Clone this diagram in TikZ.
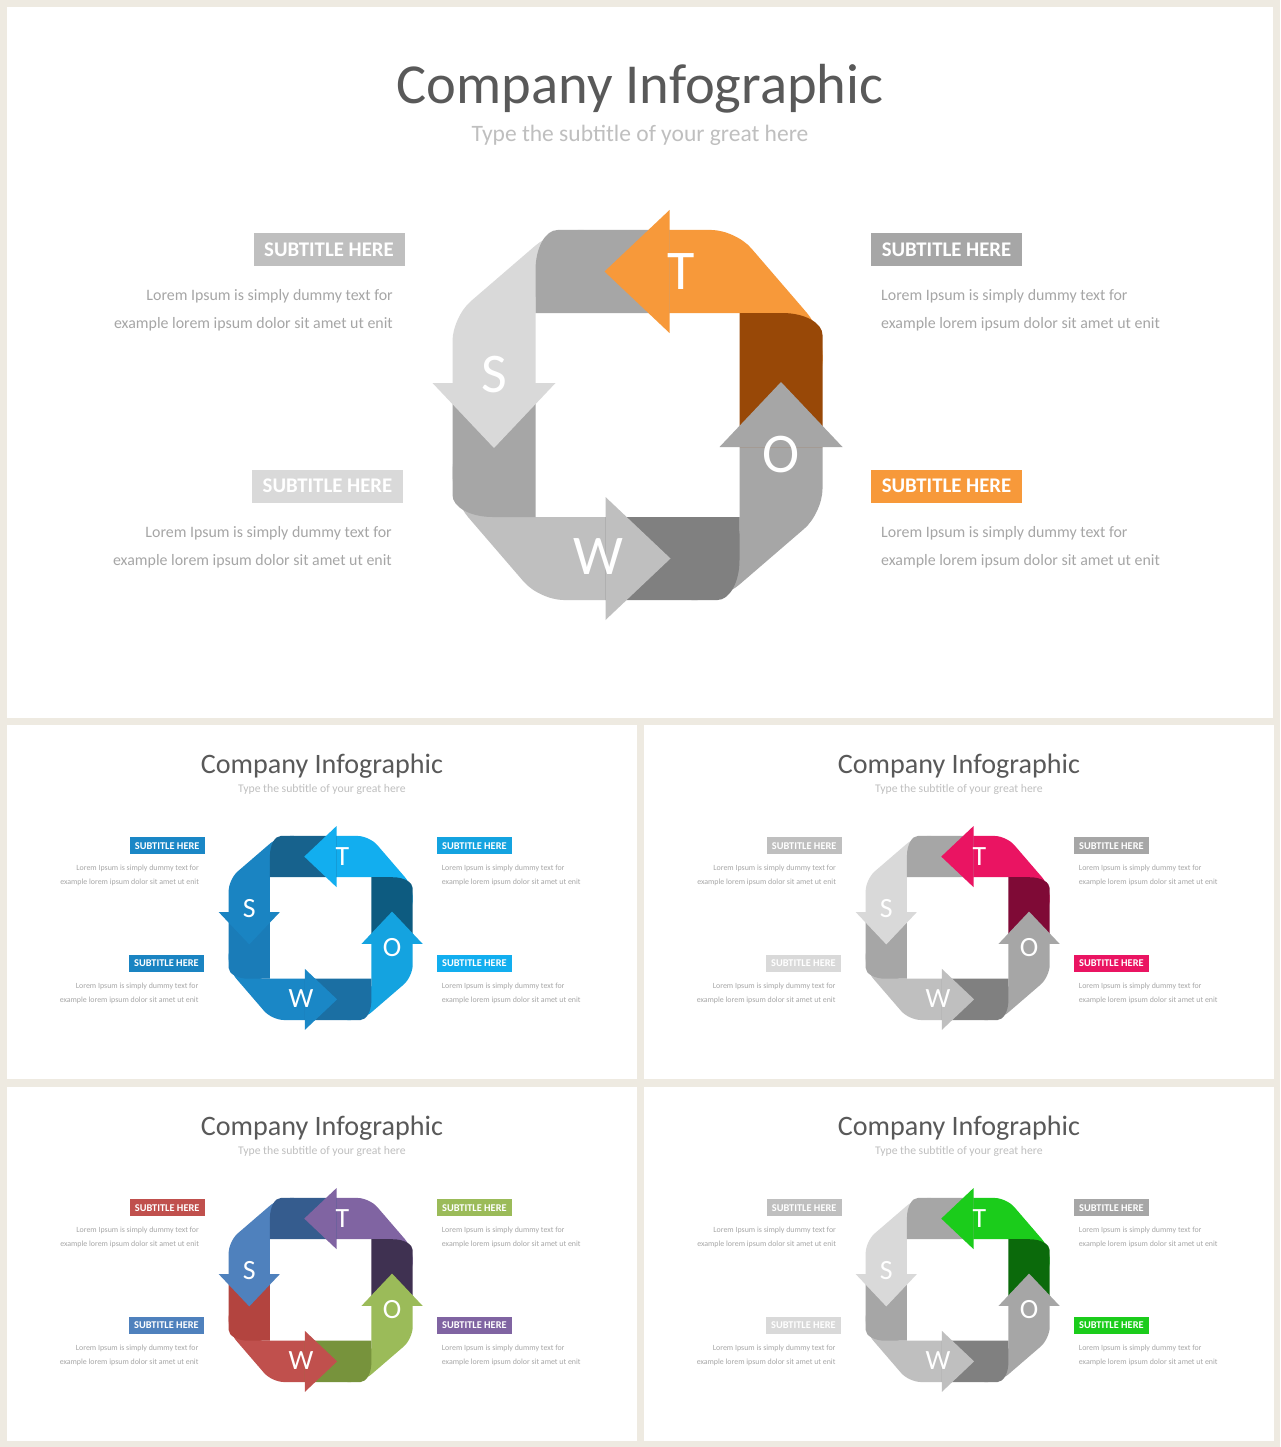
\documentclass[tikz,border=0pt]{standalone}
\usepackage{fontspec}
\setmainfont{Carlito}
\usepackage{tikz}

\definecolor{pagebg}{HTML}{EEEAE1}
\definecolor{titlegrey}{HTML}{595959}
\definecolor{subgrey}{HTML}{BFBFBF}
\definecolor{bodygrey}{HTML}{A6A6A6}

\tikzset{
  titletext/.style={font=\fontsize{56.5}{60}\selectfont, text=titlegrey, anchor=base},
  subtext/.style={font=\fontsize{23.5}{26}\selectfont, text=subgrey, anchor=base},
  subbox/.style={font=\bfseries\fontsize{20.8}{24}\selectfont, text=white, minimum width=151pt, minimum height=33pt, inner sep=0pt},
  bodytext/.style={font=\fontsize{15.9}{28}\selectfont, text=bodygrey, inner sep=0pt},
  letter/.style={font=\fontsize{56}{60}\selectfont, text=white},
}

\newcommand{\rnd}{24pt}

% one slide, drawn in the coordinates of the big one
\newcommand{\swotpanel}{%
  \fill[white] (7,7) rectangle (1273,718);
  \node[titletext] (title) at (640,104) {Company Infographic};
  \node[subtext] (subtitle) at (640,142) {Type the subtitle of your great here};

  \node[subbox, fill=wCol] (boxTL) at (329,249.5) {SUBTITLE HERE};
  \node[subbox, fill=oCol] (boxTR) at (946.5,249.5) {SUBTITLE HERE};
  \node[subbox, fill=sCol] (boxBL) at (327.5,486) {SUBTITLE HERE};
  \node[subbox, fill=tCol] (boxBR) at (946.5,486) {SUBTITLE HERE};

  \node[bodytext, anchor=east, align=right] (textTL) at (393,310) {Lorem Ipsum is simply dummy text for\\example lorem ipsum dolor sit amet ut enit};
  \node[bodytext, anchor=west, align=left] (textTR) at (881,310) {Lorem Ipsum is simply dummy text for\\example lorem ipsum dolor sit amet ut enit};
  \node[bodytext, anchor=east, align=right] (textBL) at (392,547) {Lorem Ipsum is simply dummy text for\\example lorem ipsum dolor sit amet ut enit};
  \node[bodytext, anchor=west, align=left] (textBR) at (881,547) {Lorem Ipsum is simply dummy text for\\example lorem ipsum dolor sit amet ut enit};

  \begin{scope}[shift={(637.5,415)}, y=1pt]
    % front of each ribbon
    \foreach \ang/\col in {0/sCol,-90/tCol,-180/oCol,-270/wCol} {
      \fill[\col, rotate=\ang, rounded corners=\rnd] (-102,0) -- (-102,140) -- (-30,140) -- (-30,185)
        -- (-84,185) -- (-185,98) -- (-185,0) -- cycle;
    }
    % folded back parts
    \foreach \ang/\col in {0/sDark,-90/tDark,-180/oDark,-270/wDark} {
      \fill[\col, rotate=\ang] (32,102) -- (-102,102) -- (-102,145)
        arc[start angle=180, end angle=90, x radius=22, y radius=40] -- (32,185) -- cycle;
    }
    % heads
    \foreach \ang/\col in {0/sCol,-90/tCol,-180/oCol,-270/wCol} {
      \fill[\col, rotate=\ang] (-205,32) -- (-143.5,-33) -- (-82,32) -- cycle;
    }
  \end{scope}

  \node[letter] (letS) at (494,375) {S};
  \node[letter] (letT) at (681,272) {T};
  \node[letter] (letO) at (781,455) {O};
  \node[letter] (letW) at (598,557) {W};
}

\begin{document}
\begin{tikzpicture}[x=1pt, y=-1pt]

\fill[pagebg] (0,0) rectangle (1280,1447);
\useasboundingbox (0,0) rectangle (1280,1447);

% big slide
\begin{scope}[name prefix=orange-]
  \colorlet{sCol}{black!15}  \colorlet{sDark}{black!35}
  \definecolor{tCol}{HTML}{F7993A}  \definecolor{tDark}{HTML}{984807}
  \colorlet{oCol}{black!35}  \colorlet{oDark}{black!50}
  \colorlet{wCol}{black!25}  \colorlet{wDark}{black!35}
  \swotpanel
\end{scope}

% small slides
\begin{scope}[shift={(7,725)}, scale=0.4975, transform shape, shift={(-7,-7)}, name prefix=blue-]
  \renewcommand{\rnd}{12pt}
  \definecolor{sCol}{HTML}{1A84C2}  \definecolor{sDark}{HTML}{17628D}
  \definecolor{tCol}{HTML}{12AEEF}  \definecolor{tDark}{HTML}{0D5B80}
  \definecolor{oCol}{HTML}{14A3E0}  \definecolor{oDark}{HTML}{1B6FA3}
  \definecolor{wCol}{HTML}{1A87C6}  \definecolor{wDark}{HTML}{1A7CB8}
  \swotpanel
\end{scope}

\begin{scope}[shift={(644,725)}, scale=0.4975, transform shape, shift={(-7,-7)}, name prefix=pink-]
  \renewcommand{\rnd}{12pt}
  \colorlet{sCol}{black!15}  \colorlet{sDark}{black!35}
  \definecolor{tCol}{HTML}{EA1462}  \definecolor{tDark}{HTML}{7F0A36}
  \colorlet{oCol}{black!35}  \colorlet{oDark}{black!50}
  \colorlet{wCol}{black!25}  \colorlet{wDark}{black!35}
  \swotpanel
\end{scope}

\begin{scope}[shift={(7,1087)}, scale=0.4975, transform shape, shift={(-7,-7)}, name prefix=multi-]
  \renewcommand{\rnd}{12pt}
  \definecolor{sCol}{HTML}{4F81BD}  \definecolor{sDark}{HTML}{355C8E}
  \definecolor{tCol}{HTML}{8064A2}  \definecolor{tDark}{HTML}{3F3151}
  \definecolor{oCol}{HTML}{9BBB59}  \definecolor{oDark}{HTML}{77933C}
  \definecolor{wCol}{HTML}{C0504D}  \definecolor{wDark}{HTML}{B3443F}
  \swotpanel
\end{scope}

\begin{scope}[shift={(644,1087)}, scale=0.4975, transform shape, shift={(-7,-7)}, name prefix=green-]
  \renewcommand{\rnd}{12pt}
  \colorlet{sCol}{black!15}  \colorlet{sDark}{black!35}
  \definecolor{tCol}{HTML}{1BCC1B}  \definecolor{tDark}{HTML}{0B6A0B}
  \colorlet{oCol}{black!35}  \colorlet{oDark}{black!50}
  \colorlet{wCol}{black!25}  \colorlet{wDark}{black!35}
  \swotpanel
\end{scope}

\end{tikzpicture}
\end{document}
